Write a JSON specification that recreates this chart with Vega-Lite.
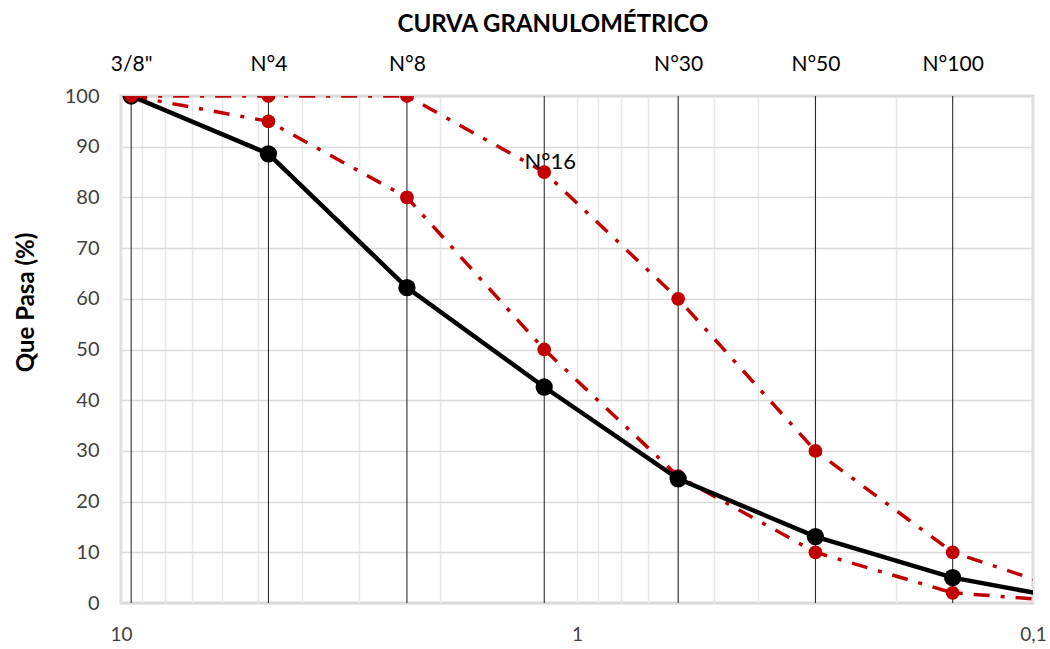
{
  "$schema": "https://vega.github.io/schema/vega-lite/v6.json",
  "width": 912,
  "height": 507,
  "autosize": "none",
  "padding": {"left": 121, "top": 96, "right": 17, "bottom": 46},
  "background": "white",
  "config": {
    "font": "Lato",
    "view": {"stroke": "#D9D9D9", "strokeWidth": 3}
  },
  "title": {
    "text": "CURVA GRANULOMÉTRICO",
    "font": "Lato",
    "fontSize": 24,
    "fontWeight": "bold",
    "color": "#000000",
    "offset": 16,
    "dx": -24
  },
  "datasets": {
    "curvas": [
      {"serie": "Muestra", "abertura": 9.5, "pasa": 100},
      {"serie": "Muestra", "abertura": 4.75, "pasa": 88.6},
      {"serie": "Muestra", "abertura": 2.36, "pasa": 62.2},
      {"serie": "Muestra", "abertura": 1.18, "pasa": 42.6},
      {"serie": "Muestra", "abertura": 0.6, "pasa": 24.5},
      {"serie": "Muestra", "abertura": 0.3, "pasa": 13.1},
      {"serie": "Muestra", "abertura": 0.15, "pasa": 5.0},
      {"serie": "Muestra", "abertura": 0.075, "pasa": 0},
      {"serie": "Límite superior", "abertura": 9.5, "pasa": 100},
      {"serie": "Límite superior", "abertura": 4.75, "pasa": 100},
      {"serie": "Límite superior", "abertura": 2.36, "pasa": 100},
      {"serie": "Límite superior", "abertura": 1.18, "pasa": 85},
      {"serie": "Límite superior", "abertura": 0.6, "pasa": 60},
      {"serie": "Límite superior", "abertura": 0.3, "pasa": 30},
      {"serie": "Límite superior", "abertura": 0.15, "pasa": 10},
      {"serie": "Límite superior", "abertura": 0.075, "pasa": 1},
      {"serie": "Límite inferior", "abertura": 9.5, "pasa": 100},
      {"serie": "Límite inferior", "abertura": 4.75, "pasa": 95},
      {"serie": "Límite inferior", "abertura": 2.36, "pasa": 80},
      {"serie": "Límite inferior", "abertura": 1.18, "pasa": 50},
      {"serie": "Límite inferior", "abertura": 0.6, "pasa": 25},
      {"serie": "Límite inferior", "abertura": 0.3, "pasa": 10},
      {"serie": "Límite inferior", "abertura": 0.15, "pasa": 2},
      {"serie": "Límite inferior", "abertura": 0.075, "pasa": 0}
    ],
    "tamices": [
      {"tamiz": "3/8\"", "abertura": 9.5},
      {"tamiz": "N°4", "abertura": 4.75},
      {"tamiz": "N°8", "abertura": 2.36},
      {"tamiz": "N°16", "abertura": 1.18},
      {"tamiz": "N°30", "abertura": 0.6},
      {"tamiz": "N°50", "abertura": 0.3},
      {"tamiz": "N°100", "abertura": 0.15}
    ]
  },
  "layer": [
    {
      "data": {"name": "tamices"},
      "mark": {"type": "rule", "color": "#1a1a1a", "strokeWidth": 1},
      "encoding": {
        "x": {
          "field": "abertura",
          "type": "quantitative",
          "scale": {"type": "log", "domain": [0.1, 10], "reverse": true, "nice": false},
          "axis": {
            "orient": "bottom",
            "values": [10, 9, 8, 7, 6, 5, 4, 3, 2, 1, 0.9, 0.8, 0.7, 0.6, 0.5, 0.4, 0.3, 0.2, 0.1],
            "labelExpr": "datum.value == 10 ? '10' : datum.value == 1 ? '1' : datum.value == 0.1 ? '0,1' : ''",
            "labelFontSize": 19,
            "labelColor": "#404040",
            "labelPadding": 22,
            "labelFlush": false,
            "labelOverlap": false,
            "ticks": false,
            "domain": false,
            "grid": true,
            "gridColor": "#E8E8E8",
            "gridWidth": 1.5,
            "title": null
          }
        }
      }
    },
    {
      "data": {"name": "curvas"},
      "transform": [{"filter": "datum.serie == 'Límite inferior'"}],
      "mark": {"type": "line", "color": "#C00000", "strokeWidth": 3.5, "strokeDash": [16, 11, 4, 11], "clip": true},
      "encoding": {
        "x": {
          "field": "abertura",
          "type": "quantitative",
          "scale": {"type": "log", "domain": [0.1, 10], "reverse": true, "nice": false},
          "axis": {
            "orient": "top",
            "values": [9.5, 4.75, 2.36, 0.6, 0.3, 0.15],
            "labelExpr": "datum.value == 9.5 ? '3/8\"' : datum.value == 4.75 ? 'N°4' : datum.value == 2.36 ? 'N°8' : datum.value == 0.6 ? 'N°30' : datum.value == 0.3 ? 'N°50' : datum.value == 0.15 ? 'N°100' : ''",
            "labelFontSize": 21,
            "labelColor": "#000000",
            "labelPadding": 22,
            "labelFlush": false,
            "labelOverlap": false,
            "ticks": false,
            "domain": false,
            "grid": false,
            "title": null
          }
        },
        "y": {
          "field": "pasa",
          "type": "quantitative",
          "scale": {"domain": [0, 100], "nice": false},
          "axis": {
            "values": [0, 10, 20, 30, 40, 50, 60, 70, 80, 90, 100],
            "labelFontSize": 20,
            "labelColor": "#404040",
            "labelPadding": 22,
            "ticks": false,
            "domain": false,
            "grid": true,
            "gridColor": "#D9D9D9",
            "gridWidth": 1.5,
            "title": "Que Pasa (%)",
            "titleFontSize": 24,
            "titleFontWeight": "bold",
            "titleColor": "#000000",
            "titlePadding": 26,
            "titleY": 206
          }
        }
      }
    },
    {
      "data": {"name": "curvas"},
      "transform": [{"filter": "datum.serie == 'Límite inferior'"}],
      "mark": {"type": "point", "filled": true, "color": "#C00000", "size": 190, "opacity": 1, "strokeWidth": 0, "clip": true},
      "encoding": {
        "x": {"field": "abertura", "type": "quantitative", "scale": {"type": "log", "domain": [0.1, 10], "reverse": true, "nice": false}, "axis": null},
        "y": {"field": "pasa", "type": "quantitative", "scale": {"domain": [0, 100], "nice": false}}
      }
    },
    {
      "data": {"name": "curvas"},
      "transform": [{"filter": "datum.serie == 'Muestra'"}],
      "mark": {"type": "line", "color": "#000000", "strokeWidth": 4.5, "clip": true},
      "encoding": {
        "x": {"field": "abertura", "type": "quantitative", "scale": {"type": "log", "domain": [0.1, 10], "reverse": true, "nice": false}, "axis": null},
        "y": {"field": "pasa", "type": "quantitative", "scale": {"domain": [0, 100], "nice": false}}
      }
    },
    {
      "data": {"name": "curvas"},
      "transform": [{"filter": "datum.serie == 'Muestra'"}],
      "mark": {"type": "point", "filled": true, "color": "#000000", "size": 300, "opacity": 1, "strokeWidth": 0, "clip": true},
      "encoding": {
        "x": {"field": "abertura", "type": "quantitative", "scale": {"type": "log", "domain": [0.1, 10], "reverse": true, "nice": false}, "axis": null},
        "y": {"field": "pasa", "type": "quantitative", "scale": {"domain": [0, 100], "nice": false}}
      }
    },
    {
      "data": {"name": "curvas"},
      "transform": [{"filter": "datum.serie == 'Límite superior'"}],
      "mark": {"type": "line", "color": "#C00000", "strokeWidth": 3.5, "strokeDash": [16, 11, 4, 11], "clip": true},
      "encoding": {
        "x": {"field": "abertura", "type": "quantitative", "scale": {"type": "log", "domain": [0.1, 10], "reverse": true, "nice": false}, "axis": null},
        "y": {"field": "pasa", "type": "quantitative", "scale": {"domain": [0, 100], "nice": false}}
      }
    },
    {
      "data": {"name": "curvas"},
      "transform": [{"filter": "datum.serie == 'Límite superior'"}],
      "mark": {"type": "point", "filled": true, "color": "#C00000", "size": 190, "opacity": 1, "strokeWidth": 0, "clip": true},
      "encoding": {
        "x": {"field": "abertura", "type": "quantitative", "scale": {"type": "log", "domain": [0.1, 10], "reverse": true, "nice": false}, "axis": null},
        "y": {"field": "pasa", "type": "quantitative", "scale": {"domain": [0, 100], "nice": false}}
      }
    },
    {
      "data": {"name": "tamices"},
      "transform": [{"filter": "datum.tamiz == 'N°16'"}],
      "mark": {"type": "text", "fontSize": 22, "color": "#000000", "align": "center", "baseline": "middle", "font": "Lato", "dx": 6},
      "encoding": {
        "x": {"field": "abertura", "type": "quantitative", "scale": {"type": "log", "domain": [0.1, 10], "reverse": true, "nice": false}, "axis": null},
        "y": {"datum": 87, "type": "quantitative", "scale": {"domain": [0, 100], "nice": false}},
        "text": {"field": "tamiz"}
      }
    }
  ],
  "resolve": {"axis": {"x": "independent"}}
}
